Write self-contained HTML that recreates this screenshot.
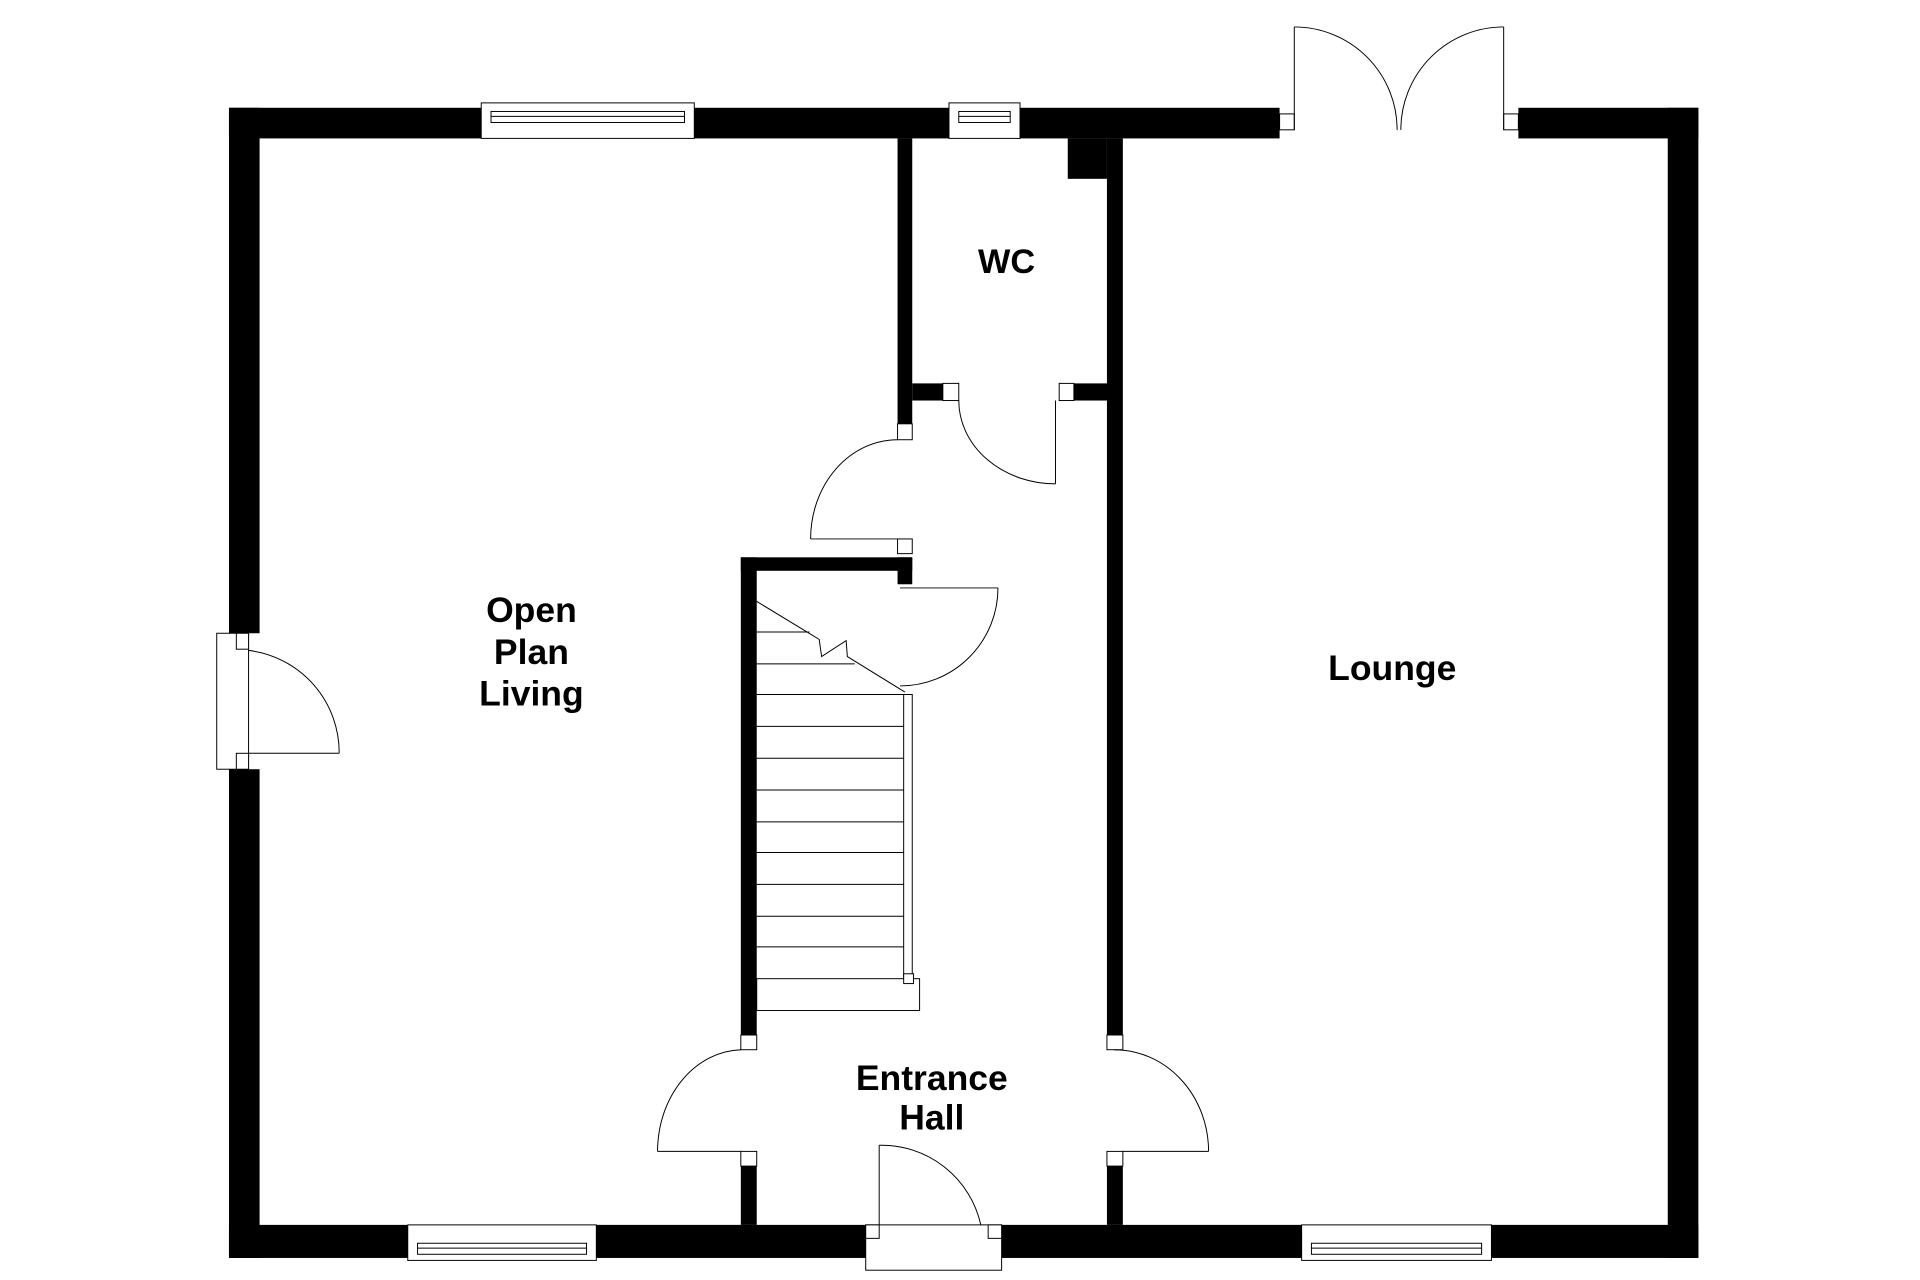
<!DOCTYPE html>
<html><head><meta charset="utf-8"><style>
html,body{margin:0;padding:0;background:#fff;}
svg{display:block;}
text{font-family:"Liberation Sans",sans-serif;font-weight:bold;fill:#000;text-anchor:middle;}
</style></head><body>
<svg width="1920" height="1280" viewBox="0 0 1568 1045" preserveAspectRatio="none" xmlns="http://www.w3.org/2000/svg">
<rect width="1568" height="1045" fill="#fff"/>
<g fill="#000">
<!-- outer left wall -->
<rect x="187" y="88" width="25" height="429"/>
<rect x="187" y="628" width="25" height="399"/>
<!-- top wall -->
<rect x="187" y="88" width="206" height="25"/>
<rect x="567" y="88" width="208" height="25"/>
<rect x="833" y="88" width="212" height="25"/>
<rect x="1240" y="88" width="147" height="25"/>
<!-- right wall -->
<rect x="1362" y="88" width="25" height="939"/>
<!-- bottom wall -->
<rect x="187" y="1000" width="146" height="27"/>
<rect x="487" y="1000" width="220" height="27"/>
<rect x="818" y="1000" width="245" height="27"/>
<rect x="1218" y="1000" width="169" height="27"/>
<!-- WC left wall -->
<rect x="733" y="113" width="12" height="233"/>
<!-- WC bottom wall -->
<rect x="745" y="313" width="25" height="14"/>
<rect x="877" y="313" width="28" height="14"/>
<!-- lounge left wall -->
<rect x="904" y="113" width="13" height="732"/>
<rect x="904" y="952" width="13" height="48"/>
<rect x="872" y="113" width="32" height="33"/>
<!-- under stairs walls -->
<rect x="605" y="455" width="140" height="11"/>
<rect x="733" y="455" width="12" height="22"/>
<rect x="605" y="455" width="13" height="390"/>
<rect x="605" y="952" width="13" height="48"/>
</g>
<g fill="#fff" stroke="#000" stroke-width="0.8">
<!-- small jamb squares -->
<rect x="733" y="346" width="12" height="13"/>
<rect x="733" y="440" width="12" height="12"/>
<rect x="770" y="313" width="13" height="14"/>
<rect x="865" y="313" width="12" height="14"/>
<rect x="605" y="845" width="13" height="12"/>
<rect x="605" y="940" width="13" height="12"/>
<rect x="904" y="845" width="13" height="12"/>
<rect x="904" y="940" width="13" height="12"/>
<!-- left door frame -->
<rect x="177" y="517" width="26" height="111"/>
<rect x="193" y="517" width="10" height="13"/>
<rect x="193" y="615" width="10" height="13"/>
<!-- bottom door frame -->
<rect x="707" y="1000" width="111" height="37"/>
<rect x="707" y="1000" width="11" height="11"/>
<rect x="807" y="1000" width="11" height="11"/>
<!-- french door jambs -->
<rect x="1045" y="93" width="12" height="13"/>
<rect x="1228" y="93" width="12" height="13"/>
<!-- windows -->
<rect x="393" y="84" width="174" height="29"/>
<rect x="401" y="91" width="158" height="9"/>
<line x1="401" y1="95" x2="559" y2="95"/>
<rect x="775" y="84" width="58" height="29"/>
<rect x="783" y="91" width="42" height="9"/>
<line x1="783" y1="95" x2="825" y2="95"/>
<rect x="333" y="1000" width="154" height="29"/>
<rect x="341" y="1015" width="138" height="9"/>
<line x1="341" y1="1019" x2="479" y2="1019"/>
<rect x="1063" y="1000" width="155" height="29"/>
<rect x="1071" y="1015" width="139" height="9"/>
<line x1="1071" y1="1019" x2="1210" y2="1019"/>
</g>
<g fill="none" stroke="#000" stroke-width="0.8">
<!-- left external door -->
<line x1="203" y1="615" x2="277" y2="615"/>
<path d="M203 531 A84 84 0 0 1 277 615"/>
<!-- bottom front door -->
<line x1="718" y1="935" x2="718" y2="1000"/>
<path d="M718 935 A83 83 0 0 1 801 1000"/>
<!-- WC door -->
<line x1="862" y1="327" x2="862" y2="395"/>
<path d="M783 327 A79 68 0 0 0 862 395"/>
<!-- hall to open plan upper door -->
<line x1="662" y1="440" x2="733" y2="440"/>
<path d="M733 359 A71 81 0 0 0 662 440"/>
<!-- cupboard door -->
<line x1="735" y1="480" x2="815" y2="480"/>
<path d="M815 480 A80 80 0 0 1 735 560"/>
<!-- lower left hall door -->
<line x1="537" y1="940" x2="605" y2="940"/>
<path d="M605 857 A70 83 0 0 0 537 940"/>
<!-- lower right hall door -->
<line x1="917" y1="940" x2="987" y2="940"/>
<path d="M910 857 A77 83 0 0 1 987 940"/>
<!-- french doors -->
<line x1="1057" y1="22" x2="1057" y2="106"/>
<path d="M1057 22 A84 84 0 0 1 1141 106"/>
<line x1="1228" y1="22" x2="1228" y2="106"/>
<path d="M1228 22 A84 84 0 0 0 1144 106"/>
<!-- stairs -->
<polyline points="618,491 669,522 671,536 691,523 692,536 739,565"/>
<line x1="618" y1="516" x2="661" y2="516"/>
<line x1="618" y1="542" x2="698" y2="542"/>
<line x1="618" y1="567" x2="738" y2="567"/>
<line x1="618" y1="593" x2="738" y2="593"/>
<line x1="618" y1="619" x2="738" y2="619"/>
<line x1="618" y1="645" x2="738" y2="645"/>
<line x1="618" y1="671" x2="738" y2="671"/>
<line x1="618" y1="696" x2="738" y2="696"/>
<line x1="618" y1="722" x2="738" y2="722"/>
<line x1="618" y1="748" x2="738" y2="748"/>
<line x1="618" y1="773" x2="738" y2="773"/>
<rect x="618" y="799" width="133" height="26"/>
<rect x="738" y="567" width="7" height="232"/>
<rect x="738" y="795" width="8" height="8" fill="#fff"/>
</g>
<text x="822" y="223" font-size="28">WC</text>
<text x="434" y="508" font-size="29">Open</text>
<text x="434" y="542" font-size="29">Plan</text>
<text x="434" y="576" font-size="29">Living</text>
<text x="1137" y="555" font-size="29">Lounge</text>
<text x="761" y="890" font-size="29">Entrance</text>
<text x="761" y="922" font-size="29">Hall</text>
</svg>
</body></html>
